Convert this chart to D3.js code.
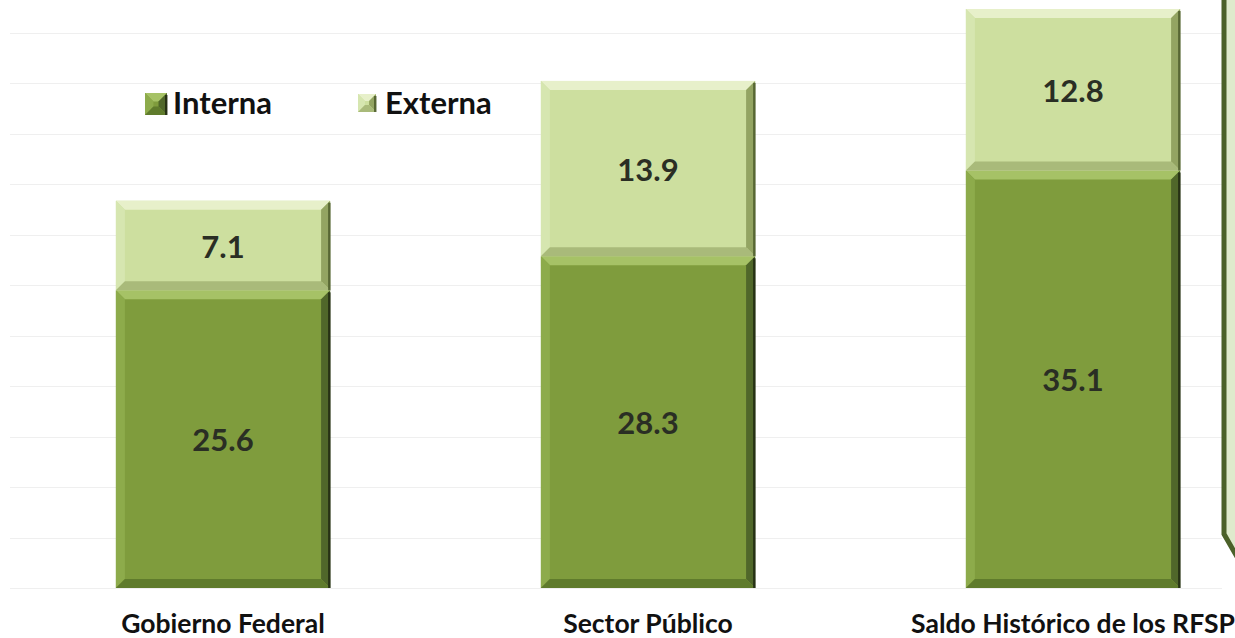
<!DOCTYPE html>
<html>
<head>
<meta charset="utf-8">
<script src="https://cdn.jsdelivr.net/npm/d3@7"></script>
<style>
  html, body { margin: 0; padding: 0; background: #ffffff; }
  svg { display: block; }
  text { font-family: Lato, "Open Sans", "DejaVu Sans", sans-serif; font-weight: bold; }
</style>
</head>
<body>
<svg id="chart" width="1235" height="638"></svg>
<script>
// ---- data ----
const categories = ["Gobierno Federal", "Sector Público", "Saldo Histórico de los RFSP"];
const seriesNames = ["Interna", "Externa"];
const interna = [25.6, 28.3, 35.1];
const externa = [7.1, 13.9, 12.8];
const gridTicks = [2, 6, 10, 14, 18, 22, 26, 30, 34, 38, 42, 46];

// ---- styles ----
const palette = {
  Interna: { base: "#7f9c3d", top: "#a6c266", left: "#8dab4b", right: "#50672a", bottom: "#5f7b2c", edge: "#1e2810" },
  Externa: { base: "#cddf9f", top: "#e7f0ca", left: "#d6e6b0", right: "#93a462", bottom: "#a9ba7a", edge: "#4c5c2c" }
};

const svg = d3.select("#chart");

const x = d3.scaleBand().domain(categories).range([10.5, 1285.5]).paddingInner(0.496).paddingOuter(0.248);
const y = d3.scaleLinear().domain([2, 46]).range([588, 33]);
const yMin = y.domain()[0];

// gridlines
svg.append("g").selectAll("line").data(gridTicks).join("line")
  .attr("x1", 10).attr("x2", 1222)
  .attr("y1", d => Math.round(y(d)) + 0.5).attr("y2", d => Math.round(y(d)) + 0.5)
  .attr("stroke", "#efefef").attr("stroke-width", 1.2);

// build stacked data
const rows = categories.map((c, i) => ({ cat: c, Interna: interna[i], Externa: externa[i] }));
const stack = d3.stack().keys(seriesNames)(rows);

function bevelRect(g, x0, y0, x1, y1, col, b) {
  g.append("rect").attr("x", x0).attr("y", y0).attr("width", x1 - x0).attr("height", y1 - y0).attr("fill", col.base);
  const poly = (pts, fill) => g.append("polygon").attr("points", pts.map(p => p.join(",")).join(" ")).attr("fill", fill);
  poly([[x0, y0], [x1, y0], [x1 - b, y0 + b], [x0 + b, y0 + b]], col.top);
  poly([[x0, y0], [x0 + b, y0 + b], [x0 + b, y1 - b], [x0, y1]], col.left);
  poly([[x1, y0], [x1, y1], [x1 - b, y1 - b], [x1 - b, y0 + b]], col.right);
  poly([[x0, y1], [x0 + b, y1 - b], [x1 - b, y1 - b], [x1, y1]], col.bottom);
  g.append("rect").attr("x", x1 - 2).attr("y", y0 + 2).attr("width", 2.5).attr("height", y1 - y0 - 2).attr("fill", col.edge).attr("opacity", 0.85);
}

const barsG = svg.append("g");
stack.forEach(layer => {
  const col = palette[layer.key];
  layer.forEach((d, i) => {
    const x0 = x(categories[i]), x1 = x0 + x.bandwidth();
    const yTop = y(d[1]), yBot = y(Math.max(d[0], yMin));
    const g = barsG.append("g");
    bevelRect(g, x0, yTop, x1, yBot, col, 9);
    const v = d[1] - d[0];
    g.append("text")
      .attr("x", (x0 + x1) / 2).attr("y", (yTop + yBot) / 2 + 12)
      .attr("text-anchor", "middle")
      .attr("font-size", 31).attr("fill", "#2a2e24")
      .text(v.toFixed(1));
  });
});

// category labels
svg.append("g").selectAll("text").data(categories).join("text")
  .attr("x", d => x(d) + x.bandwidth() / 2).attr("y", 633)
  .attr("text-anchor", "middle").attr("font-size", 26.5).attr("fill", "#111111")
  .text(d => d);

// legend
const legend = svg.append("g");
const legendItems = [
  { name: "Interna", mx: 145, my: 93, ms: 22, tx: 173 },
  { name: "Externa", mx: 358, my: 94, ms: 18, tx: 385 }
];
legendItems.forEach(it => {
  const g = legend.append("g");
  bevelRect(g, it.mx, it.my, it.mx + it.ms, it.my + it.ms, palette[it.name], it.ms / 2.6);
  g.append("text").attr("x", it.tx).attr("y", 114).attr("font-size", 31).attr("fill", "#111111").text(it.name);
});

// right-side panel
svg.append("path")
  .attr("d", "M1224,-10 L1224,534 L1240,562 L1240,-10 Z")
  .attr("fill", "#dfeacc").attr("stroke", "#4b6129").attr("stroke-width", 5);
</script>
</body>
</html>
